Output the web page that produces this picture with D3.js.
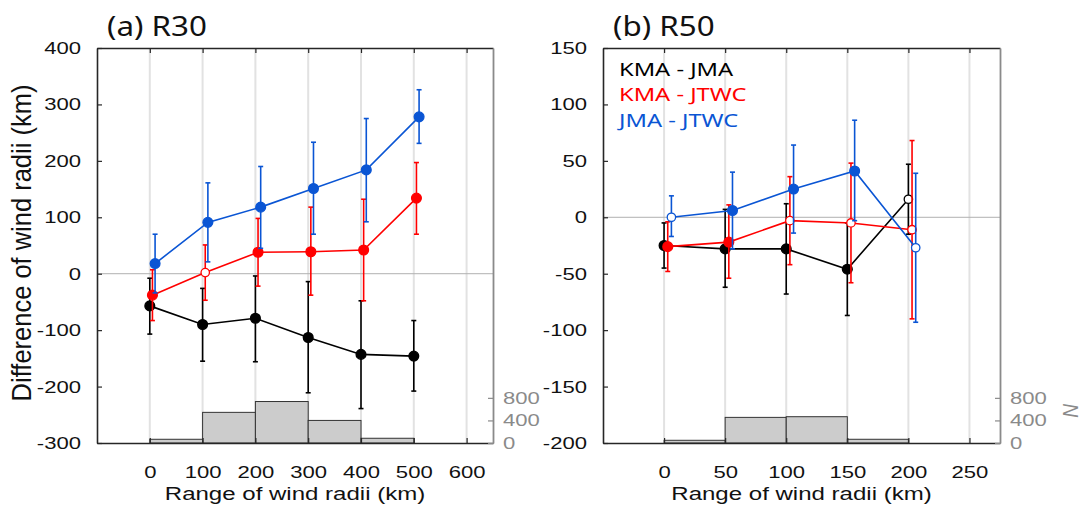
<!DOCTYPE html>
<html>
<head>
<meta charset="utf-8">
<script src="https://cdn.jsdelivr.net/npm/d3@7"></script>
<style>
  body { margin: 0; background: #fff; }
</style>
</head>
<body>
<svg id="chart" width="1084" height="518"></svg>
<script>
// ---- data: (a) R30 ----
const r30Range = [0, 100, 200, 300, 400, 500];
const r30BinEdges = [0, 100, 200, 300, 400, 500];
const r30Count = [66, 543, 735, 400, 84];
const r30KmaJma = [-57, -90, -79, -113, -143, -146];
const r30KmaJmaLo = [-107, -155, -156, -211, -239, -208];
const r30KmaJmaHi = [-8, -26, -4, -14, -48, -83];
const r30KmaJmaOpen = [0, 0, 0, 0, 0, 0];
const r30KmaJtwc = [-38, 2, 38, 39, 42, 134];
const r30KmaJtwcLo = [-83, -47, -22, -38, -48, 70];
const r30KmaJtwcHi = [7, 51, 98, 118, 132, 197];
const r30KmaJtwcOpen = [0, 1, 0, 0, 0, 0];
const r30JmaJtwc = [18, 91, 118, 151, 184, 278];
const r30JmaJtwcLo = [-34, 21, 45, 70, 92, 231];
const r30JmaJtwcHi = [70, 161, 190, 233, 275, 326];
const r30JmaJtwcOpen = [0, 0, 0, 0, 0, 0];
const r30XTicks = [0, 100, 200, 300, 400, 500, 600];
const r30YTicks = [-300, -200, -100, 0, 100, 200, 300, 400];

// ---- data: (b) R50 ----
const r50Range = [0, 50, 100, 150, 200];
const r50BinEdges = [0, 50, 100, 150, 200];
const r50Count = [48, 454, 466, 66];
const r50KmaJma = [-25, -28, -28, -46, 16];
const r50KmaJmaLo = [-45, -62, -68, -87, -15];
const r50KmaJmaHi = [-5, 7, 12, -5, 47];
const r50KmaJmaOpen = [0, 0, 0, 0, 1];
const r50KmaJtwc = [-26, -22, -3, -5, -11];
const r50KmaJtwcLo = [-48, -54, -42, -58, -90];
const r50KmaJtwcHi = [-4, 11, 36, 48, 68];
const r50KmaJtwcOpen = [0, 0, 1, 1, 1];
const r50JmaJtwc = [0, 6, 25, 41, -27];
const r50JmaJtwcLo = [-17, -28, -14, -3, -93];
const r50JmaJtwcHi = [19, 40, 64, 86, 39];
const r50JmaJtwcOpen = [1, 0, 0, 0, 1];
const r50XTicks = [0, 50, 100, 150, 200, 250];
const r50YTicks = [-200, -150, -100, -50, 0, 50, 100, 150];

const seriesNames = ["KMA - JMA", "KMA - JTWC", "JMA - JTWC"];
const seriesColors = ["#000000", "#ff0000", "#0a55d4"];
const countTicks = [0, 400, 800];

const svg = d3.select("#chart");
svg.append("rect").attr("width", 1084).attr("height", 518).attr("fill", "#fff");

const TOP = 48, BOTTOM = 443;
const tickFont = "'Liberation Sans', Arial, sans-serif";
const titleFont = "'Noto Sans', 'Open Sans', sans-serif";
const SX = 1.3; // the figure text is stretched sideways

function stretch(sel, sx, xAttr) {
  sel.attr("transform", function () {
    const x0 = xAttr ? +d3.select(this).attr("x") || 0 : 0;
    return `translate(${x0},0) scale(${sx},1) translate(${-x0},0)`;
  });
}

function drawPanel(cfg) {
  const x = d3.scaleLinear().domain(cfg.xDomain).range([cfg.left, cfg.right]);
  const y = d3.scaleLinear().domain(cfg.yDomain).range([BOTTOM, TOP]);
  const yN = d3.scaleLinear().domain([0, 7000]).range([BOTTOM, TOP]);
  const g = svg.append("g");

  // vertical grid
  g.selectAll(".grid").data(cfg.xTicks).join("line")
    .attr("x1", d => x(d)).attr("x2", d => x(d))
    .attr("y1", TOP).attr("y2", BOTTOM)
    .attr("stroke", "#e2e2e2").attr("stroke-width", 2);

  // histogram of sample numbers
  g.selectAll(".bar").data(cfg.count).join("rect")
    .attr("x", (d, i) => x(cfg.binEdges[i]))
    .attr("width", (d, i) => x(cfg.binEdges[i + 1]) - x(cfg.binEdges[i]))
    .attr("y", d => yN(d))
    .attr("height", d => BOTTOM - yN(d))
    .attr("fill", "#cccccc").attr("stroke", "#333").attr("stroke-width", 1);

  // zero line
  g.append("line")
    .attr("x1", cfg.left).attr("x2", cfg.right)
    .attr("y1", y(0)).attr("y2", y(0))
    .attr("stroke", "#b0b0b0").attr("stroke-width", 1);

  // axes
  const axL = g.append("g").attr("transform", `translate(${cfg.left},0)`)
    .call(d3.axisLeft(y).tickValues(cfg.yTicks).tickSize(-5).tickSizeOuter(0)
      .tickPadding(16).tickFormat(d => String(d)));
  const axB = g.append("g").attr("transform", `translate(0,${BOTTOM})`)
    .call(d3.axisBottom(x).tickValues(cfg.xTicks).tickSize(-5).tickSizeOuter(0)
      .tickPadding(23).tickFormat(d => String(d)));
  const axT = g.append("g").attr("transform", `translate(0,${TOP})`)
    .call(d3.axisTop(x).tickValues(cfg.xTicks).tickSize(-5).tickSizeOuter(0)
      .tickFormat(""));
  const axR = g.append("g").attr("transform", `translate(${cfg.right},0)`)
    .call(d3.axisRight(yN).tickValues(countTicks).tickSize(-5).tickSizeOuter(0)
      .tickPadding(10).tickFormat(d => String(d)));

  [axL, axB, axT].forEach(a => {
    a.select(".domain").attr("stroke", "#262626").attr("stroke-width", 1.6);
    a.selectAll(".tick line").attr("stroke", "#262626").attr("stroke-width", 1.2);
    a.selectAll("text").attr("fill", "#111").style("font-family", tickFont).style("font-size", "17px");
  });
  axR.select(".domain").attr("stroke", "#8a8a8a").attr("stroke-width", 1.8);
  axR.selectAll(".tick line").attr("stroke", "#8a8a8a").attr("stroke-width", 1.2);
  axR.selectAll("text").attr("fill", "#8a8a8a").style("font-family", tickFont).style("font-size", "17px");
  stretch(axL.selectAll("text"), SX, true);
  stretch(axB.selectAll("text"), SX, false);
  stretch(axR.selectAll("text"), SX, true);

  // series: error bars, line, markers
  cfg.series.forEach((s, k) => {
    const col = seriesColors[k];
    const pts = s.mean.map((m, i) => ({
      x: x(cfg.range[i] + cfg.offsets[k]), m: y(m), lo: y(s.lo[i]), hi: y(s.hi[i]), open: s.open[i]
    }));
    const sg = g.append("g");
    sg.selectAll(".eb").data(pts).join("line")
      .attr("x1", d => d.x).attr("x2", d => d.x).attr("y1", d => d.lo).attr("y2", d => d.hi)
      .attr("stroke", col).attr("stroke-width", 1.6);
    sg.selectAll(".capT").data(pts).join("line")
      .attr("x1", d => d.x - 2.5).attr("x2", d => d.x + 2.5).attr("y1", d => d.hi).attr("y2", d => d.hi)
      .attr("stroke", col).attr("stroke-width", 1.6);
    sg.selectAll(".capB").data(pts).join("line")
      .attr("x1", d => d.x - 2.5).attr("x2", d => d.x + 2.5).attr("y1", d => d.lo).attr("y2", d => d.lo)
      .attr("stroke", col).attr("stroke-width", 1.6);
    sg.append("path").datum(pts)
      .attr("d", d3.line().x(d => d.x).y(d => d.m))
      .attr("fill", "none").attr("stroke", col).attr("stroke-width", 1.6);
    sg.selectAll(".mk").data(pts).join("circle")
      .attr("cx", d => d.x).attr("cy", d => d.m)
      .attr("r", d => d.open ? 4.2 : 4.9)
      .attr("fill", d => d.open ? "#fff" : col)
      .attr("stroke", col).attr("stroke-width", 1.3);
  });

  // title
  const t = svg.append("text").attr("x", cfg.left + 10).attr("y", 36)
    .style("font-family", titleFont).style("font-size", "28px").attr("fill", "#111")
    .text(cfg.title);
  stretch(t, 1.12, true);

  // x label
  const xl = svg.append("text").attr("x", (cfg.left + cfg.right) / 2).attr("y", 500)
    .attr("text-anchor", "middle")
    .style("font-family", tickFont).style("font-size", "18.5px").attr("fill", "#111")
    .text("Range of wind radii (km)");
  stretch(xl, SX, true);

  return { x, y };
}

drawPanel({
  title: "(a) R30", left: 97, right: 493, xDomain: [-100, 650], yDomain: [-300, 400],
  xTicks: r30XTicks, yTicks: r30YTicks, range: r30Range, binEdges: r30BinEdges, count: r30Count,
  offsets: [0, 5, 10],
  series: [
    { mean: r30KmaJma, lo: r30KmaJmaLo, hi: r30KmaJmaHi, open: r30KmaJmaOpen },
    { mean: r30KmaJtwc, lo: r30KmaJtwcLo, hi: r30KmaJtwcHi, open: r30KmaJtwcOpen },
    { mean: r30JmaJtwc, lo: r30JmaJtwcLo, hi: r30JmaJtwcHi, open: r30JmaJtwcOpen }
  ]
});

drawPanel({
  title: "(b) R50", left: 603, right: 1000, xDomain: [-50, 275], yDomain: [-200, 150],
  xTicks: r50XTicks, yTicks: r50YTicks, range: r50Range, binEdges: r50BinEdges, count: r50Count,
  offsets: [0, 3, 6],
  series: [
    { mean: r50KmaJma, lo: r50KmaJmaLo, hi: r50KmaJmaHi, open: r50KmaJmaOpen },
    { mean: r50KmaJtwc, lo: r50KmaJtwcLo, hi: r50KmaJtwcHi, open: r50KmaJtwcOpen },
    { mean: r50JmaJtwc, lo: r50JmaJtwcLo, hi: r50JmaJtwcHi, open: r50JmaJtwcOpen }
  ]
});

// y label (left panel)
svg.append("text")
  .attr("transform", "translate(31,243) scale(1.07,1) rotate(-90)")
  .attr("text-anchor", "middle")
  .style("font-family", tickFont).style("font-size", "25.5px").attr("fill", "#111")
  .text("Difference of wind radii (km)");

// N label (right panel)
svg.append("text")
  .attr("transform", "translate(1078,411) scale(1.15,1) rotate(-90)")
  .attr("text-anchor", "middle")
  .style("font-family", tickFont).style("font-size", "19px").style("font-style", "italic")
  .attr("fill", "#8a8a8a")
  .text("N");

// legend
const legend = svg.append("g");
seriesNames.forEach((name, i) => {
  const lt = legend.append("text").attr("x", 619).attr("y", 76 + i * 25.5)
    .style("font-family", titleFont).style("font-size", "18.5px")
    .attr("fill", seriesColors[i]).text(name);
  stretch(lt, 1.28, true);
});
</script>
</body>
</html>
